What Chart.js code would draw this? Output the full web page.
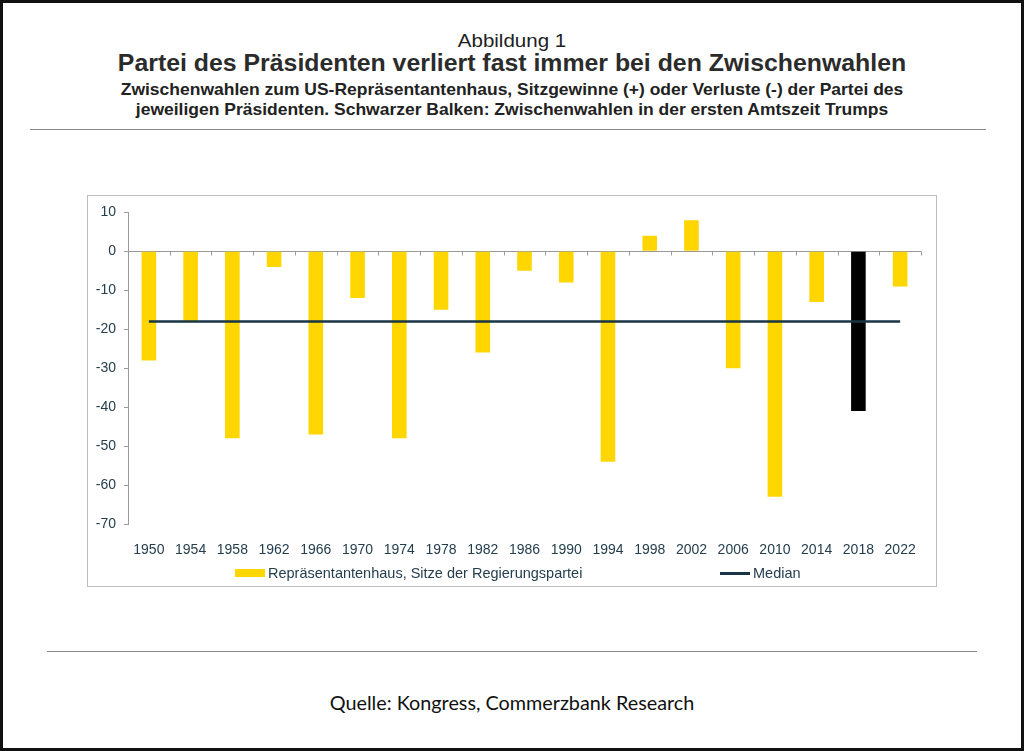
<!DOCTYPE html>
<html lang="de">
<head>
<meta charset="utf-8">
<title>Abbildung 1</title>
<script src="https://cdn.jsdelivr.net/npm/chart.js@4/dist/chart.umd.min.js"></script>
<style>
  html, body { margin: 0; padding: 0; background: #fff; }
  #page {
    position: relative; width: 1024px; height: 751px;
    box-sizing: border-box; border: 3px solid #111; background: #fff;
    font-family: "Liberation Sans", Arial, sans-serif; overflow: hidden;
  }
  .txt { position: absolute; left: -3px; width: 1024px; text-align: center; color: #2b2b2b; transform: scaleX(1.08); }
  #fig { top: 27px; font-size: 19px; line-height: 22px; color: #222; }
  #title { top: 47px; font-size: 23px; line-height: 26px; font-weight: bold; }
  #sub { top: 76px; font-size: 16.2px; line-height: 20px; font-weight: bold; color: #222; }
  .rule { position: absolute; height: 0; border-top: 1.5px solid #8a8a8a; }
  #box {
    position: absolute; left: 84px; top: 192px; width: 850px; height: 392px;
    box-sizing: border-box; border: 1px solid #bdbdbd;
  }
  #box canvas { position: absolute; left: 0; top: 0; }
  .leg { position: absolute; font-size: 14.5px; color: #243e4e; line-height: 16px; white-space: nowrap; }
  .leg i { display: inline-block; vertical-align: middle; margin-right: 3px; position: relative; top: -1px; }
  #src { top: 687px; font-family: Lato, "Open Sans", sans-serif; font-size: 19.8px; line-height: 24px; color: #111; transform: none; }
</style>
</head>
<body>
<div id="page">
  <div class="txt" id="fig">Abbildung 1</div>
  <div class="txt" id="title">Partei des Präsidenten verliert fast immer bei den Zwischenwahlen</div>
  <div class="txt" id="sub">Zwischenwahlen zum US-Repräsentantenhaus, Sitzgewinne (+) oder Verluste (-) der Partei des<br>jeweiligen Präsidenten. Schwarzer Balken: Zwischenwahlen in der ersten Amtszeit Trumps</div>
  <div class="rule" style="left:27px; top:126px; width:956px;"></div>
  <div id="box">
    <canvas id="chart" width="848" height="390"></canvas>
    <div class="leg" id="leg1" style="left:147px; top:369px;"></div>
    <div class="leg" id="leg2" style="left:632px; top:369px;"></div>
  </div>
  <div class="rule" style="left:44px; top:648px; width:930px;"></div>
  <div class="txt" id="src">Quelle: Kongress, Commerzbank Research</div>
</div>
<script>
// Zwischenwahlen (Jahre)
const years = ['1950','1954','1958','1962','1966','1970','1974','1978','1982','1986',
               '1990','1994','1998','2002','2006','2010','2014','2018','2022'];
// Sitzgewinne/-verluste der Partei des Präsidenten
const seatChange = [-28, -18, -48, -4, -47, -12, -48, -15, -26, -5,
                    -8, -54, 4, 8, -30, -63, -13, -41, -9];
const medianValue = -18;
const trumpYear = '2018';
const yTicks = { min: -70, max: 10, step: 10 };

const seriesName = 'Repräsentantenhaus, Sitze der Regierungspartei';
const medianName = 'Median';
const gold = '#ffd600';
const tickColor = '#243e4e';
const axisGray = '#9a9a9a';

// Nulllinie mit Teilstrichen an den Kategoriegrenzen
const zeroAxis = {
  id: 'zeroAxis',
  beforeDatasetsDraw(chart) {
    const x = chart.scales.x, y = chart.scales.y, ctx = chart.ctx;
    const y0 = Math.round(y.getPixelForValue(0)) + 0.5;
    const step = x.getPixelForValue(1) - x.getPixelForValue(0);
    ctx.save();
    ctx.strokeStyle = axisGray;
    ctx.lineWidth = 1;
    ctx.beginPath();
    ctx.moveTo(x.left, y0);
    ctx.lineTo(x.right, y0);
    for (let i = 0; i <= years.length; i++) {
      const px = Math.round(x.getPixelForValue(0) - step / 2 + i * step) + 0.5;
      ctx.moveTo(px, y0);
      ctx.lineTo(px, y0 + 4);
    }
    ctx.stroke();
    ctx.restore();
  }
};

const chart = new Chart(document.getElementById('chart'), {
  type: 'bar',
  data: {
    labels: years,
    datasets: [
      {
        type: 'line',
        label: medianName,
        data: [{ x: years[0], y: medianValue }, { x: years[years.length - 1], y: medianValue }],
        borderColor: '#173545',
        backgroundColor: '#173545',
        borderWidth: 2.5,
        pointRadius: 0,
        order: 0
      },
      {
        label: seriesName,
        data: seatChange,
        backgroundColor: years.map(y => y === trumpYear ? '#000000' : gold),
        barPercentage: 0.35,
        categoryPercentage: 1,
        order: 1
      }
    ]
  },
  options: {
    responsive: false,
    animation: false,
    layout: { padding: { top: 15, right: 15, bottom: 32, left: 0 } },
    plugins: { legend: { display: false }, tooltip: { enabled: false } },
    scales: {
      x: {
        grid: { display: false },
        border: { display: false },
        ticks: { color: tickColor, font: { family: 'Liberation Sans', size: 14 }, padding: 10, maxRotation: 0, autoSkip: false },
        afterFit(s) { s.height = 30; }
      },
      y: {
        min: yTicks.min, max: yTicks.max,
        grid: { drawOnChartArea: false, drawTicks: true, tickLength: 4, tickColor: axisGray },
        border: { display: true, color: axisGray, width: 1 },
        ticks: { stepSize: yTicks.step, color: tickColor, font: { family: 'Liberation Sans', size: 14 }, padding: 8 },
        afterFit(s) { s.width = 40; }
      }
    }
  },
  plugins: [zeroAxis]
});

// Legende aus den Datensätzen
const bar = chart.data.datasets[1], med = chart.data.datasets[0];
document.getElementById('leg1').innerHTML =
  '<i style="width:30px;height:8px;background:' + gold + '"></i>' + bar.label;
document.getElementById('leg2').innerHTML =
  '<i style="width:30px;height:3px;background:' + med.borderColor + '"></i>' + med.label;
</script>
</body>
</html>
